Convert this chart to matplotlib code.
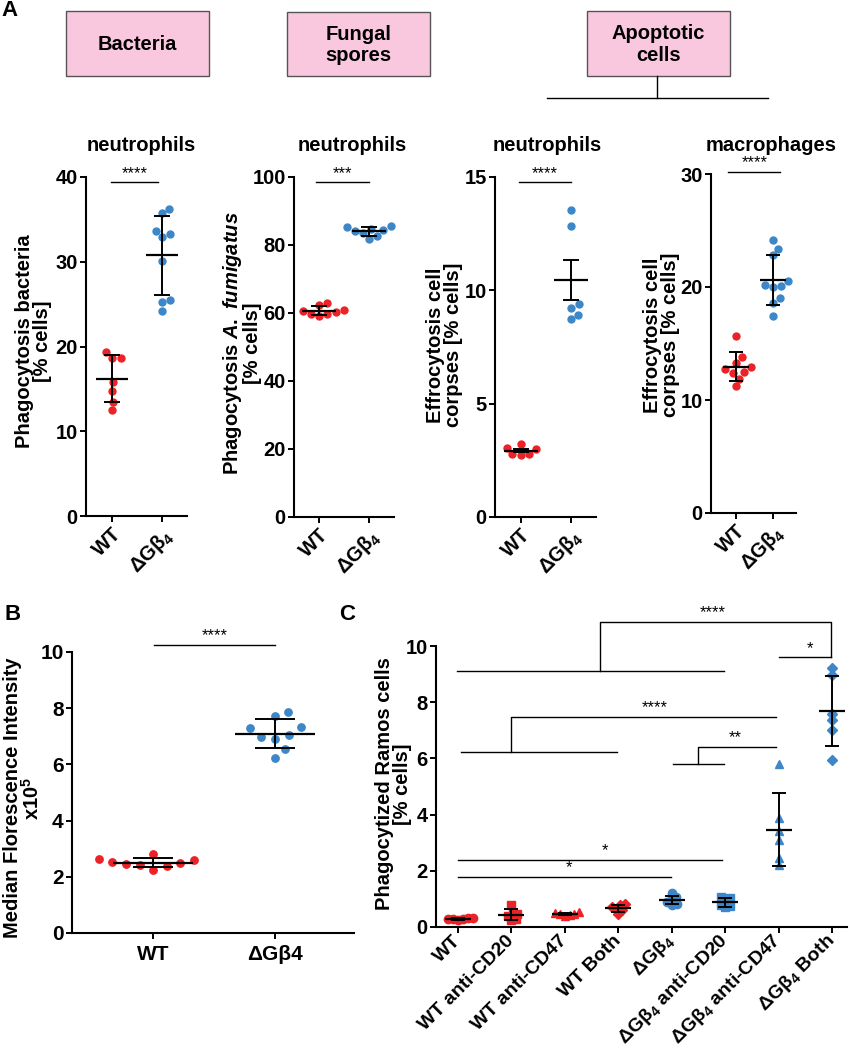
import numpy as np
import matplotlib
matplotlib.use('Agg')
import matplotlib.pyplot as plt
from matplotlib.patches import Rectangle

plt.rcParams['font.family'] = ['Liberation Sans', 'DejaVu Sans']
plt.rcParams['font.weight'] = 'bold'
plt.rcParams['axes.labelweight'] = 'bold'
plt.rcParams['mathtext.fontset'] = 'custom'
plt.rcParams['mathtext.rm'] = 'Liberation Sans:bold'
plt.rcParams['mathtext.it'] = 'Liberation Sans:italic:bold'
plt.rcParams['mathtext.bf'] = 'Liberation Sans:bold'

RED = '#ec2227'
BLUE = '#3d87c8'
KO = 'ΔGβ$_4$'

# ---- data ----
# panel A
bact_wt = [18.7, 19.4, 18.7, 15.8, 14.8, 13.5, 12.5]
bact_ko = [33.6, 35.7, 36.2, 32.9, 33.3, 30.1, 25.5, 25.3, 24.2]
fung_wt = [62.8, 62.5, 61.0, 60.5, 60.2, 59.8, 59.6, 59.2]
fung_ko = [85.5, 85.2, 84.8, 84.3, 84.0, 83.6, 82.6, 81.8]
neut_wt = [3.22, 3.05, 3.0, 2.78, 2.75, 2.78]
neut_ko = [13.53, 12.84, 9.24, 9.38, 8.75, 8.9]
mac_wt = [15.7, 13.3, 13.8, 12.9, 12.7, 12.5, 12.4, 11.9, 11.2]
mac_ko = [24.2, 23.4, 22.8, 20.0, 20.2, 20.1, 20.5, 19.0, 18.6, 17.4]
a_groups = ['WT', KO]

# panel B
mfi_groups = ['WT', 'ΔGβ4']
mfi_wt = [2.63, 2.37, 2.81, 2.49, 2.43, 2.46, 2.61, 2.25, 2.53]
mfi_ko = [7.85, 7.71, 7.30, 7.32, 6.98, 7.03, 6.90, 6.55, 6.22]

# panel C
c_labels = ['WT', 'WT anti-CD20', 'WT anti-CD47', 'WT Both',
            KO, KO + ' anti-CD20', KO + ' anti-CD47', KO + ' Both']
c_values = [
    [0.30, 0.27, 0.33, 0.25, 0.32, 0.28],
    [0.79, 0.45, 0.38, 0.30, 0.25, 0.48],
    [0.52, 0.48, 0.45, 0.42, 0.40, 0.49],
    [0.82, 0.78, 0.72, 0.65, 0.60, 0.48],
    [1.20, 1.05, 0.98, 0.88, 0.82, 0.80],
    [1.05, 1.02, 0.95, 0.80, 0.73, 0.70],
    [5.79, 3.87, 3.10, 3.40, 2.19, 2.45],
    [9.23, 8.97, 7.37, 7.57, 7.01, 5.95],
]

fig = plt.figure(figsize=(8.5, 10.5), dpi=100)


def px_axes(l, t, r, b):
    return fig.add_axes([l / 850, 1 - b / 1050, (r - l) / 850, (b - t) / 1050])


def style(ax, size=14.5):
    for s in ['top', 'right']:
        ax.spines[s].set_visible(False)
    for s in ['left', 'bottom']:
        ax.spines[s].set_linewidth(1.5)
    ax.tick_params(direction='out', length=4, width=1.4, labelsize=size, pad=2)


def swarm(ax, x0, vals, d):
    # simple beeswarm in pixel space
    pts = ax.transData.transform(np.column_stack([np.full(len(vals), x0), vals]))
    ys = pts[:, 1]
    placed = []
    offs = np.zeros(len(vals))
    for i in np.argsort(ys):
        y = ys[i]
        cands = [0.0]
        for xo, yo in placed:
            dy = abs(y - yo)
            if dy < d:
                dx = np.sqrt(d * d - dy * dy)
                cands += [xo + dx, xo - dx]
        cands.sort(key=abs)
        for c in cands:
            if all((c - xo) ** 2 + (y - yo) ** 2 >= d * d - 1e-6 for xo, yo in placed):
                offs[i] = c
                break
        placed.append((offs[i], y))
    ppu = ax.transData.transform([(1, 0)])[0][0] - ax.transData.transform([(0, 0)])[0][0]
    return x0 + offs / ppu


def dots(ax, x0, vals, color, marker='o', ms=5, d=9):
    xs = swarm(ax, x0, vals, d)
    ax.plot(xs, vals, ls='none', marker=marker, ms=ms, mfc=color, mec=color,
            zorder=3, clip_on=False)


def mean_err(ax, x0, vals, kind, mean_w, cap):
    v = np.asarray(vals)
    m = v.mean()
    s = v.std(ddof=1)
    if kind == 'sem':
        s = s / np.sqrt(len(v))
    ax.errorbar([x0], [m], yerr=[s], fmt='none', ecolor='k', elinewidth=1.4,
                capsize=cap, capthick=1.4, zorder=4)
    ax.plot([x0], [m], marker='_', ms=mean_w, mew=1.6, color='k', zorder=4)


star_kw = dict(ha='center', va='bottom', fontsize=12, fontweight='normal',
               textcoords='offset points', xytext=(0, 1), annotation_clip=False)


def sig(ax, x1, x2, y, stars):
    ax.plot([x1, x2], [y, y], color='k', lw=1.0, clip_on=False)
    ax.annotate(stars, xy=((x1 + x2) / 2, y), **star_kw)


# ---- overlay with boxes, tree and panel letters ----
ov = fig.add_axes([0, 0, 1, 1], zorder=-1)
ov.set_xlim(0, 850)
ov.set_ylim(1050, 0)
ov.axis('off')
for (l, t, r, b), txt in [((66, 11, 209, 76), 'Bacteria'),
                          ((287, 12, 430, 76), 'Fungal\nspores'),
                          ((587, 11, 730, 76), 'Apoptotic\ncells')]:
    ov.add_patch(Rectangle((l, t), r - l, b - t, facecolor='#f9c8de', edgecolor='#555555', lw=1))
    ov.text((l + r) / 2, (t + b) / 2 + 1, txt, ha='center', va='center', fontsize=14.5,
            linespacing=1.15)
ov.plot([657, 657], [76, 97.7], color='k', lw=1)
ov.plot([547, 768], [97.7, 97.7], color='k', lw=1)
ov.text(1, 10, 'A', fontsize=16, va='center')
ov.text(4, 615, 'B', fontsize=16, va='center')
ov.text(339, 615, 'C', fontsize=16, va='center')

# ---- panel A ----
a_panels = [
    dict(box=(86, 177, 187, 516), data=(bact_wt, bact_ko), ylim=40, step=10,
         xlim=(-0.52, 1.5), kind='sd', title='neutrophils', tx=141,
         ylabel='Phagocytosis bacteria\n[% cells]', lab=(52, 341),
         sig=(-0.03, 0.92, 39.4, '****'), mw=23, cap=6),
    dict(box=(294, 177, 394, 517), data=(fung_wt, fung_ko), ylim=100, step=20,
         xlim=(-0.5, 1.5), kind='sd', title='neutrophils', tx=352,
         ylabel='Phagocytosis $\\mathit{A.\\ fumigatus}$\n[% cells]', lab=(262, 343),
         sig=(-0.06, 0.99, 98.5, '***'), mw=24, cap=6),
    dict(box=(495, 177, 596, 517), data=(neut_wt, neut_ko), ylim=15, step=5,
         xlim=(-0.52, 1.51), kind='sem', title='neutrophils', tx=547,
         ylabel='Effrocytosis cell\ncorpses [% cells]', lab=(463, 345),
         sig=(-0.04, 1.0, 14.77, '****'), mw=24, cap=6),
    dict(box=(711, 174, 796, 513), data=(mac_wt, mac_ko), ylim=30, step=10,
         xlim=(-0.67, 1.63), kind='sd', title='macrophages', tx=771,
         ylabel='Effrocytosis cell\ncorpses [% cells]', lab=(680, 335),
         sig=(-0.2, 1.2, 30.18, '****'), mw=19, cap=5),
]
for p in a_panels:
    l, t, r, b = p['box']
    ax = px_axes(l, t, r, b)
    style(ax)
    ax.set_xlim(*p['xlim'])
    ax.set_ylim(0, p['ylim'])
    ax.set_yticks(np.arange(0, p['ylim'] + 1, p['step']))
    ax.set_xticks([0, 1])
    ax.set_xticklabels(a_groups, rotation=45, ha='right', rotation_mode='anchor')
    for i, (vals, col) in enumerate(zip(p['data'], [RED, BLUE])):
        dots(ax, i, vals, col, ms=5, d=8.5)
        mean_err(ax, i, vals, p['kind'], p['mw'], p['cap'])
    ax.set_ylabel(p['ylabel'], fontsize=14.5, linespacing=0.95)
    lx, ly = p['lab']
    ax.yaxis.set_label_coords((lx - l) / (r - l), (b - ly) / (b - t))
    sig(ax, *p['sig'])
    fig.text(p['tx'] / 850, 1 - 151 / 1050, p['title'], ha='center', va='baseline', fontsize=14.5)

# ---- panel B ----
axb = px_axes(72, 652, 354, 933)
style(axb, 15)
axb.set_xlim(-0.668, 1.65)
axb.set_ylim(0, 10)
axb.set_yticks(np.arange(0, 11, 2))
axb.set_xticks([0, 1])
axb.set_xticklabels(mfi_groups, fontsize=15)
axb.tick_params(axis='x', pad=5)
for i, (vals, col) in enumerate(zip([mfi_wt, mfi_ko], [RED, BLUE])):
    dots(axb, i, vals, col, ms=5.3, d=14)
    mean_err(axb, i, vals, 'sd', 58, 14.5)
axb.set_ylabel('Median Florescence Intensity\nx10$^5$', fontsize=14.5, linespacing=0.95)
axb.yaxis.set_label_coords((43 - 72) / 282, (933 - 798) / 281)
sig(axb, 0.01, 1.0, 10.26, '****')

# ---- panel C ----
axc = px_axes(436, 646, 847, 927)
style(axc)
axc.set_xlim(-0.41, 7.28)
axc.set_ylim(0, 10)
axc.set_yticks(np.arange(0, 11, 2))
axc.set_xticks(range(len(c_labels)))
axc.set_xticklabels(c_labels, rotation=45, ha='right', va='center',
                    rotation_mode='anchor', fontsize=14)
axc.tick_params(axis='x', pad=4)
c_markers = ['o', 's', '^', 'D']
for i, vals in enumerate(c_values):
    col = RED if i < 4 else BLUE
    mk = c_markers[i % 4]
    dots(axc, i, vals, col, marker=mk, ms=6 if mk != 'D' else 5.2, d=5)
    mean_err(axc, i, vals, 'sd', 19, 5)
axc.set_ylabel('Phagocytized Ramos cells\n[% cells]', fontsize=14.5, linespacing=0.95)
axc.yaxis.set_label_coords((412 - 436) / 411, (927 - 784) / 281)

kw = dict(color='k', lw=1.0, clip_on=False)
# comparison brackets
axc.plot([-0.02, 4.97], [9.12, 9.12], **kw)
axc.plot([2.65, 2.65, 6.98, 6.98], [9.12, 10.87, 10.87, 9.6], **kw)
axc.plot([6.0, 6.98], [9.6, 9.6], **kw)
axc.annotate('****', xy=(4.76, 10.87), **star_kw)
axc.annotate('*', xy=(6.58, 9.6), **star_kw)
axc.plot([0.06, 2.98], [6.22, 6.22], **kw)
axc.plot([0.99, 0.99, 5.96], [6.22, 7.48, 7.48], **kw)
axc.annotate('****', xy=(3.69, 7.48), **star_kw)
axc.plot([4.02, 4.98], [5.81, 5.81], **kw)
axc.plot([4.49, 4.49, 5.96], [5.81, 6.41, 6.41], **kw)
axc.annotate('**', xy=(5.19, 6.41), **star_kw)
axc.plot([0.0, 4.94], [2.39, 2.39], **kw)
axc.annotate('*', xy=(2.76, 2.39), **star_kw)
axc.plot([0.0, 3.99], [1.79, 1.79], **kw)
axc.annotate('*', xy=(2.07, 1.79), **star_kw)

fig.savefig('out.png', dpi=100)
